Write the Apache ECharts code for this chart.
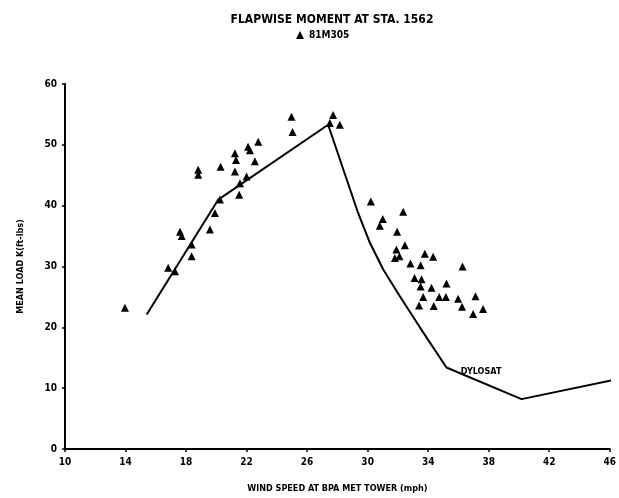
<!DOCTYPE html>
<html>
<head>
<meta charset="utf-8">
<script src="https://cdn.jsdelivr.net/npm/echarts@6/dist/echarts.min.js"></script>
<style>html,body{margin:0;padding:0;background:#fff}#c{width:619px;height:498px}</style>
</head>
<body>
<div id="c"></div>
<script>
var titleText = 'FLAPWISE MOMENT AT STA. 1562';
var seriesScatterName = '81M305';
var seriesLineName = 'DYLOSAT';
var xAxisName = 'WIND SPEED AT BPA MET TOWER (mph)';
var yAxisName = 'MEAN LOAD K(ft-lbs)';

// Measured test points (wind speed mph, mean load k ft-lbs)
var measuredX = [13.96,16.82,17.27,17.71,17.6,18.37,18.37,18.8,18.8,19.58,19.91,20.24,20.28,21.23,21.3,21.23,21.56,21.51,22.0,22.1,22.22,22.55,22.77,24.97,25.04,27.72,27.5,28.16,
  30.21,32.35,30.8,31.0,31.95,32.46,31.9,31.8,32.1,33.78,34.33,32.83,33.5,36.27,33.1,33.56,33.5,34.22,35.21,33.67,34.73,35.17,35.98,37.13,33.4,34.37,36.24,36.97,37.63];
var measuredY = [23.2,29.8,29.2,35.0,35.7,33.6,31.7,45.1,45.9,36.1,38.8,41.0,46.4,48.6,47.5,45.6,43.7,41.8,44.8,49.7,49.1,47.3,50.5,54.6,52.1,54.9,53.6,53.3,
  40.7,39.0,36.7,37.8,35.7,33.5,32.8,31.4,31.7,32.1,31.6,30.5,30.2,30.0,28.1,27.9,26.7,26.5,27.2,25.0,25.0,25.0,24.7,25.1,23.6,23.5,23.4,22.2,23.0];

// DYLOSAT prediction curve
var predX = [15.4,20.13,27.39,29.37,30.15,31.03,32.13,33.45,35.21,40.17,46.55];
var predY = [22.1,41.0,53.3,38.8,33.9,29.5,25.1,20.0,13.4,8.2,11.5];

var xTicks = [10,14,18,22,26,30,34,38,42,46];
var yTicks = [0,10,20,30,40,50,60];

var font = 'DejaVu Sans Condensed, DejaVu Sans, sans-serif';
var chart = echarts.init(document.getElementById('c'), null, {renderer:'canvas'});
chart.setOption({
  backgroundColor:'#fff',
  animation:false,
  title:{text:titleText,left:327,top:9,textAlign:'center',
    textStyle:{fontFamily:font,fontSize:12,fontWeight:'bold',color:'#000'}},
  legend:{data:[{name:seriesScatterName,icon:'triangle',itemStyle:{color:'#000',opacity:1}}],left:291,top:25,itemWidth:8,itemHeight:8,itemGap:4,
    textStyle:{fontFamily:font,fontSize:10,fontWeight:'bold',color:'#000'}},
  grid:{left:65,right:9,top:84,bottom:48,containLabel:false},
  xAxis:{type:'value',min:xTicks[0],max:xTicks[xTicks.length-1],interval:4,
    name:xAxisName,nameLocation:'middle',nameGap:35,
    nameTextStyle:{fontFamily:font,fontSize:9,fontWeight:'bold',color:'#000'},
    axisLine:{onZero:false,lineStyle:{color:'#000',width:2}},
    axisTick:{show:true,length:3,inside:false,lineStyle:{color:'#000',width:1.5}},
    axisLabel:{fontFamily:font,fontSize:10,fontWeight:'bold',color:'#000',margin:8},
    splitLine:{show:false}},
  yAxis:{type:'value',min:yTicks[0],max:yTicks[yTicks.length-1],interval:10,
    name:yAxisName,nameLocation:'middle',nameGap:40,nameRotate:90,
    nameTextStyle:{fontFamily:font,fontSize:9,fontWeight:'bold',color:'#000'},
    axisLine:{lineStyle:{color:'#000',width:2}},
    axisTick:{show:true,length:3,lineStyle:{color:'#000',width:1.5}},
    axisLabel:{fontFamily:font,fontSize:10,fontWeight:'bold',color:'#000',margin:8},
    splitLine:{show:false}},
  series:[
    {name:seriesLineName,type:'line',data:predX.map(function(x,i){return [x,predY[i]];}),
      symbol:'none',lineStyle:{color:'#000',width:2},z:2,
      markPoint:{symbol:'circle',symbolSize:0,
        data:[{coord:[37.5,12.7],value:seriesLineName}],
        label:{show:true,formatter:seriesLineName,fontFamily:font,fontSize:9,fontWeight:'bold',color:'#000'}}},
    {name:seriesScatterName,type:'scatter',data:measuredX.map(function(x,i){return [x,measuredY[i]];}),
      symbol:'triangle',symbolSize:8,itemStyle:{color:'#000',opacity:1},z:3}
  ]
});
</script>
</body>
</html>
